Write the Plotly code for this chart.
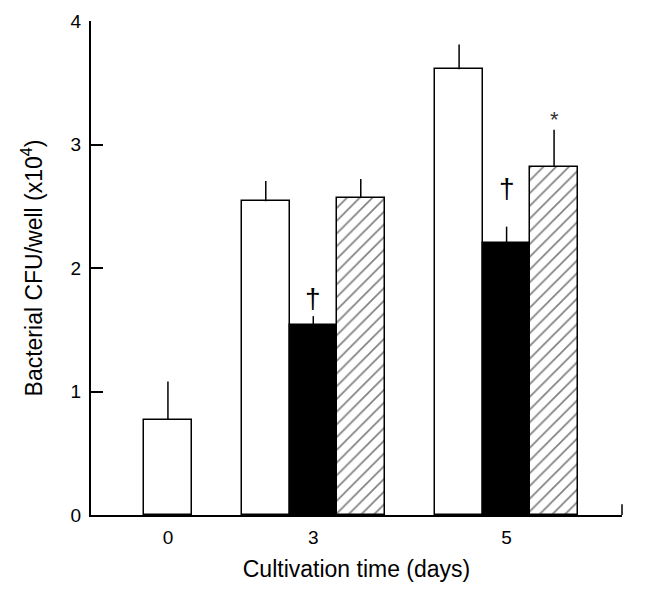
import plotly.graph_objects as go

# ---- data ----
days = ["0", "3", "5"]
control = [0.77, 2.54, 3.61]
control_err = [0.31, 0.165, 0.20]
treat_a = [None, 1.54, 2.20]
treat_a_err = [None, 0.07, 0.135]
treat_b = [None, 2.57, 2.82]
treat_b_err = [None, 0.15, 0.30]
marks_a = [None, "†", "†"]
marks_a_y = [None, 1.75, 2.64]
marks_b = [None, None, "*"]
marks_b_y = [None, None, 3.2]
y_ticks = [0, 1, 2, 3, 4]

# ---- layout helpers (axis units: one bar width = 1) ----
group_centers = [1.62, 4.68, 8.75]
bar_w = 1.0
x_range = [0, 11.18]

series = [control, treat_a, treat_b]
errs = [control_err, treat_a_err, treat_b_err]

def positions(idx):
    xs = []
    for g in range(len(days)):
        present = [k for k in range(len(series)) if series[k][g] is not None]
        n = len(present)
        if idx in present:
            j = present.index(idx)
            xs.append(group_centers[g] + (j - (n - 1) / 2) * bar_w)
        else:
            xs.append(None)
    return xs

fig = go.Figure()
styles = [
    dict(color="white", pattern=None),
    dict(color="black", pattern=None),
    dict(color="white", pattern=dict(shape="/", fgcolor="black", bgcolor="white", size=9, solidity=0.18)),
]
for i, (vals, ev, st) in enumerate(zip(series, errs, styles)):
    xs = positions(i)
    marker = dict(color=st["color"], line=dict(color="black", width=1.5))
    if st["pattern"]:
        marker["pattern"] = st["pattern"]
    fig.add_trace(go.Bar(
        x=xs, y=vals, width=bar_w, marker=marker,
        error_y=dict(type="data", array=ev, arrayminus=[0 if e is not None else None for e in ev],
                     symmetric=False, width=0, thickness=1.5, color="black"),
        showlegend=False, hoverinfo="skip",
    ))

# significance marks
for i, (marks, my) in enumerate([(marks_a, marks_a_y), (marks_b, marks_b_y)]):
    xs = positions(i + 1)
    for g, m in enumerate(marks):
        if m:
            fig.add_annotation(
                x=xs[g], y=my[g], text=m, showarrow=False, yanchor="middle",
                font=dict(size=28 if m == "†" else 22, color="black" if m == "†" else "#333",
                          family="Liberation Sans, Arial, sans-serif"),
            )

# right-end tick on x axis
fig.add_shape(type="line", xref="paper", yref="paper", x0=1, x1=1, y0=0, y1=0.022,
              line=dict(color="black", width=1.5))

# page body has an 8px default margin; size the figure to fit the window
fig.update_layout(
    width=640, height=584,
    margin=dict(l=83, r=26, t=13, b=77),
    plot_bgcolor="white", paper_bgcolor="white",
    font=dict(family="Liberation Sans, Arial, sans-serif", size=19, color="black"),
    bargap=0,
)
fig.update_xaxes(
    range=x_range, tickvals=group_centers, ticktext=days, ticks="",
    showline=True, linecolor="black", linewidth=2, showgrid=False, zeroline=False,
    title=dict(text="Cultivation time (days)", standoff=14), tickfont=dict(size=19),
    automargin=False, ticklabelstandoff=4,
)
fig.update_yaxes(
    range=[0, 4], tickvals=y_ticks, ticks="inside", ticklen=12, tickwidth=1.5, tickcolor="black",
    showline=True, linecolor="black", linewidth=2, showgrid=False, zeroline=False,
    title=dict(text="Bacterial CFU/well (x10<sup>4</sup>)", standoff=22), tickfont=dict(size=19),
    automargin=False, ticklabelstandoff=4,
)

fig.write_html("out.html")
